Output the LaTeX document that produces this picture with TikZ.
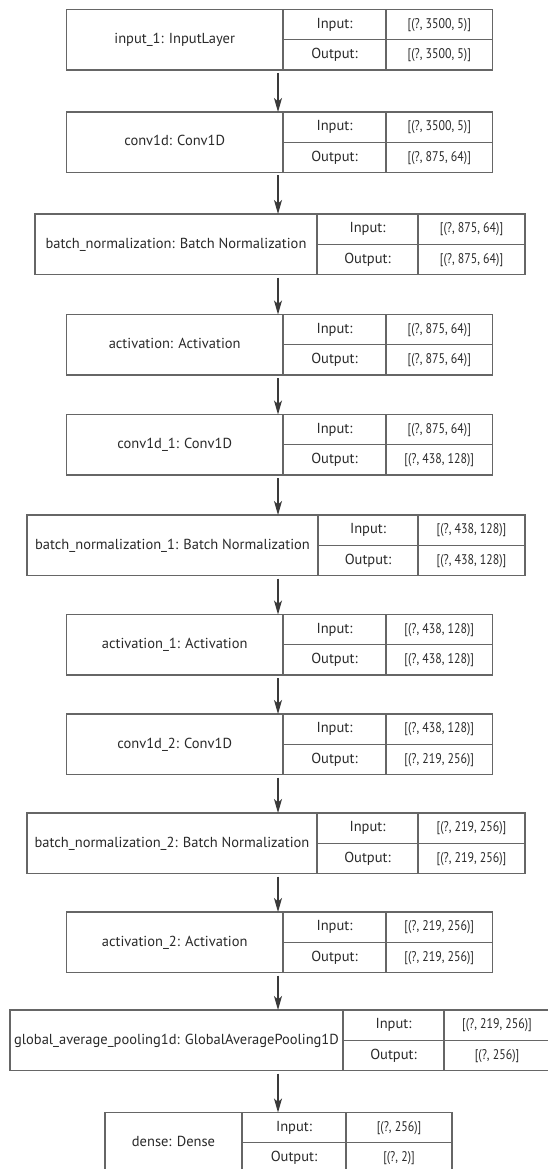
\documentclass[tikz,border=0pt]{standalone}
\usepackage{fontspec}
\setmainfont{PT Sans}
\usetikzlibrary{arrows.meta,fit}
\definecolor{linec}{HTML}{666666}
\definecolor{txtc}{HTML}{2A2A2A}
\definecolor{arrc}{HTML}{3A3A3A}
\tikzset{
  frame/.style={draw=linec, line width=1.3pt, inner sep=0pt, outer sep=0pt},
  cell/.style={draw=linec, line width=1.3pt},
  txt/.style={inner sep=0pt, text=txtc, font=\fontsize{14.5}{16}\selectfont, text height=10pt, text depth=2.5pt, anchor=center},
  val/.style={txt, font=\fontsize{14}{16}\selectfont},
  arr/.style={draw=arrc, line width=1.2pt, shorten <=3pt, -{Stealth[length=14pt,width=8pt,inset=3.5pt]}}
}
\newcommand\valtext[1]{\scalebox{0.85}[1]{#1}}
% #1 id, #2 left, #3 divider1, #4 divider2, #5 right, #6 top, #7 name, #8 input, #9 output
\newcommand\layerrow[9]{%
  \coordinate (#1nw) at (#2,#6);
  \coordinate (#1se) at (#5,#6+60.5);
  \node[frame, fit=(#1nw)(#1se)] (#1) {};
  \draw[cell] (#3,#6) -- (#3,#6+60.5);
  \draw[cell] (#4,#6) -- (#4,#6+60.5);
  \draw[cell] (#3,#6+30.25) -- (#5,#6+30.25);
  \node[txt] (#1name) at ({(#2+#3)/2},#6+30.25) {#7};
  \node[txt] (#1il) at ({(#3+#4)/2},#6+15.1) {Input:};
  \node[txt] (#1ol) at ({(#3+#4)/2},#6+45.4) {Output:};
  \node[val] (#1iv) at ({(#4+#5)/2},#6+15.1) {\valtext{#8}};
  \node[val] (#1ov) at ({(#4+#5)/2},#6+45.4) {\valtext{#9}};
}
\begin{document}
\begin{tikzpicture}[x=1pt,y=-1pt]
\useasboundingbox[fill=white] (0,0) rectangle (548,1169);
\coordinate (ax) at (278,0);
\layerrow{r1}{66.4}{283}{386}{492.5}{9.5}{input\_1: InputLayer}{[(?, 3500, 5)]}{[(?, 3500, 5)]}
\layerrow{r2}{66.4}{283}{386}{492.5}{112}{conv1d: Conv1D}{[(?, 3500, 5)]}{[(?, 875, 64)]}
\layerrow{r3}{35}{317}{418}{525}{214}{batch\_normalization: Batch Normalization}{[(?, 875, 64)]}{[(?, 875, 64)]}
\layerrow{r4}{66.4}{283}{386}{492.5}{314.5}{activation: Activation}{[(?, 875, 64)]}{[(?, 875, 64)]}
\layerrow{r5}{66.4}{283}{386}{492.5}{414.5}{conv1d\_1: Conv1D}{[(?, 875, 64)]}{[(?, 438, 128)]}
\layerrow{r6}{27}{318}{418}{525}{515}{batch\_normalization\_1: Batch Normalization}{[(?, 438, 128)]}{[(?, 438, 128)]}
\layerrow{r7}{66.4}{283}{386}{492.5}{614.5}{activation\_1: Activation}{[(?, 438, 128)]}{[(?, 438, 128)]}
\layerrow{r8}{66.4}{283}{386}{492.5}{714}{conv1d\_2: Conv1D}{[(?, 438, 128)]}{[(?, 219, 256)]}
\layerrow{r9}{27}{317}{418}{525}{813}{batch\_normalization\_2: Batch Normalization}{[(?, 219, 256)]}{[(?, 219, 256)]}
\layerrow{r10}{66.4}{283}{386}{492.5}{912}{activation\_2: Activation}{[(?, 219, 256)]}{[(?, 219, 256)]}
\layerrow{r11}{10}{343}{444}{550}{1010}{global\_average\_pooling1d: GlobalAveragePooling1D}{[(?, 219, 256)]}{[(?, 256)]}
\layerrow{r12}{105}{242}{346}{452}{1112.5}{dense: Dense}{[(?, 256)]}{[(?, 2)]}
\foreach \a/\b in {r1/r2,r2/r3,r3/r4,r4/r5,r5/r6,r6/r7,r7/r8,r8/r9,r9/r10,r10/r11,r11/r12}
  \draw[arr] (\a.south -| ax) -- (\b.north -| ax);
\end{tikzpicture}
\end{document}
